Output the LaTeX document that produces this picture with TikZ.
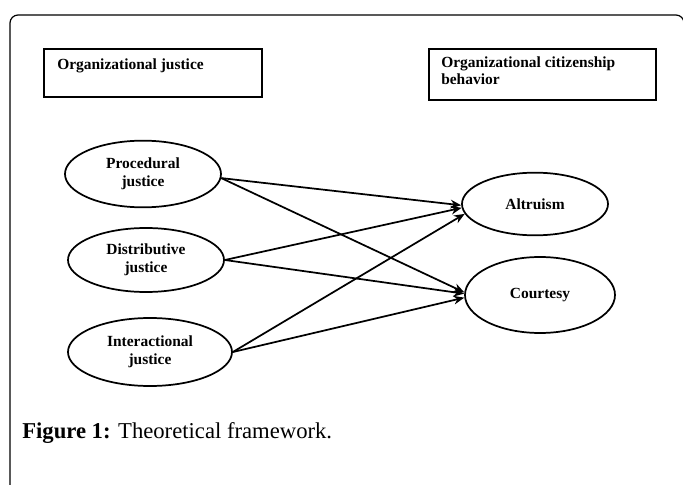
\documentclass[tikz,border=0pt]{standalone}
\usepackage{fontspec}
\setmainfont{Liberation Serif}
\usetikzlibrary{shapes.geometric,arrows.meta}
\begin{document}
\begin{tikzpicture}[x=0.75pt,y=-0.75pt,
  hdrbox/.style={draw, line width=1.6pt, inner sep=0pt},
  hdrtext/.style={anchor=base west, inner sep=0pt, align=left, font=\fontsize{11.6}{12.5}\selectfont\bfseries},
  oval/.style={draw, ellipse, line width=1.3pt, inner sep=0pt, align=center, font=\fontsize{11.6}{13.5}\selectfont\bfseries},
  link/.style={line width=1.3pt, -{Stealth[length=8pt,width=6.5pt]}},
  framepath/.style={line width=0.9pt, rounded corners=6pt}]
\useasboundingbox (0,0) rectangle (683,485);
\begin{scope}
  \clip (0,0) rectangle (683,485);
  \draw[framepath] (10,15) rectangle (684,540);
\end{scope}
% header boxes
\node[hdrbox, minimum width=163.5pt, minimum height=36pt] (b1) at (153,73) {};
\node[hdrtext] (t1) at (57,70) {Organizational justice};
\node[hdrbox, minimum width=170.25pt, minimum height=38.25pt] (b2) at (542.5,74.5) {};
\node[hdrtext, anchor=north west] (t2) at (441,57) {Organizational citizenship\\behavior};
% ellipses
\node[oval, minimum width=117pt, minimum height=50pt] (P) at (143,174) {Procedural\\justice};
\node[oval, minimum width=117pt, minimum height=48pt] (D) at (146,260) {Distributive\\justice};
\node[oval, minimum width=123pt, minimum height=51pt] (I) at (150,352) {Interactional\\justice};
\node[oval, minimum width=109.5pt, minimum height=47pt] (A) at (535,204) {Altruism};
\node[oval, minimum width=112.5pt, minimum height=57pt] (C) at (540,295) {Courtesy};
% connectors
\draw[link] (P.-3) -- (A.181);
\draw[link] (P.-3) -- (C.178);
\draw[link] (D.east) -- (A.183);
\draw[link] (D.east) -- (C.179);
\draw[link] (I.east) -- (A.188);
\draw[link] (I.east) -- (C.182);
% caption
\node[anchor=base west, inner sep=0pt, font=\fontsize{17}{20}\selectfont] (cap) at (22,438) {\textbf{Figure 1:} Theoretical framework.};
\end{tikzpicture}
\end{document}
